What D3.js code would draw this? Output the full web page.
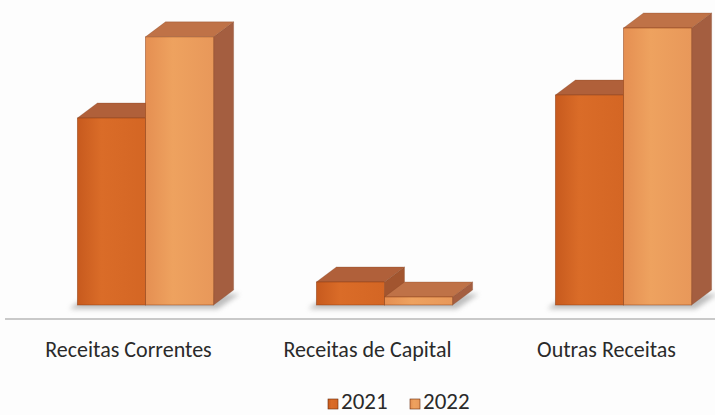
<!DOCTYPE html>
<html>
<head>
<meta charset="utf-8">
<script src="https://cdn.jsdelivr.net/npm/d3@7"></script>
<style>
  body { margin: 0; background: #fdfdfd; }
  svg { display: block; }
</style>
</head>
<body>
<div id="chart"></div>
<script>
var categories = ["Receitas Correntes", "Receitas de Capital", "Outras Receitas"];
var years = ["2021", "2022"];
var values2021 = [67.5, 8.3, 75.8];
var values2022 = [96.8, 2.9, 100];

var ctx = {
    w: 715,
    h: 415,
    base: 305,
    top: 28,
    dx: 20,
    dy: -15,
    floorY: 319
};

var svgEl = d3.select("#chart").append("svg")
    .attr("width", ctx.w)
    .attr("height", ctx.h);

svgEl.append("rect").attr("width", ctx.w).attr("height", ctx.h).attr("fill", "#fdfdfd");

var defs = svgEl.append("defs");

// front face gradients (one per year)
var frontStops = {
    "2021": [["0%", "#c75a1e"], ["35%", "#da6c28"], ["100%", "#d46624"]],
    "2022": [["0%", "#e58f52"], ["40%", "#eea25f"], ["100%", "#e8985a"]]
};
years.forEach(function(y) {
    var g = defs.append("linearGradient")
        .attr("id", "front" + y)
        .attr("x1", "0").attr("y1", "0").attr("x2", "1").attr("y2", "0");
    frontStops[y].forEach(function(s) {
        g.append("stop").attr("offset", s[0]).attr("stop-color", s[1]);
    });
});
defs.append("filter").attr("id", "blur")
    .attr("x", "-20%").attr("y", "-50%").attr("width", "140%").attr("height", "200%")
    .append("feGaussianBlur").attr("stdDeviation", 2.5);

var topColor = { "2021": "#b0603a", "2022": "#bf7247" };
var sideColor = { "2021": "#a2552f", "2022": "#a45e40" };

var x0 = d3.scaleBand()
    .domain(categories)
    .range([26, 743])
    .paddingInner(0.43)
    .paddingOuter(0.215);

var x1 = d3.scaleBand()
    .domain(years)
    .range([0, x0.bandwidth()]);

var yScale = d3.scaleLinear()
    .domain([0, 100])
    .range([ctx.base, ctx.top]);

// floor line
svgEl.append("line")
    .attr("x1", 5).attr("x2", ctx.w)
    .attr("y1", ctx.floorY).attr("y2", ctx.floorY)
    .attr("stroke", "#c9c9c9")
    .attr("stroke-width", 2);

// shadows under each group
categories.forEach(function(c) {
    var xl = x0(c), xr = x0(c) + x0.bandwidth();
    var pts = [
        [xl - 8, ctx.base + 4],
        [xr + 4, ctx.base + 4],
        [xr + ctx.dx + 6, ctx.base + ctx.dy + 4],
        [xl + ctx.dx - 8, ctx.base + ctx.dy + 4]
    ];
    svgEl.append("polygon")
        .attr("points", pts.map(p => p.join(",")).join(" "))
        .attr("fill", "#8a8a8a")
        .attr("opacity", 0.55)
        .attr("filter", "url(#blur)");
});

var rows = [];
categories.forEach(function(c, i) {
    rows.push({ cat: c, year: "2021", value: values2021[i] });
    rows.push({ cat: c, year: "2022", value: values2022[i] });
});

// one <g> per bar, drawn left to right so the 2022 box hides the 2021 side
rows.forEach(function(d) {
    var x = x0(d.cat) + x1(d.year);
    var w = x1.bandwidth();
    var yt = yScale(d.value);
    var yb = yScale(0);
    var g = svgEl.append("g").attr("class", "bar3d");

    // right side face
    g.append("polygon")
        .attr("points", [
            [x + w, yt], [x + w + ctx.dx, yt + ctx.dy],
            [x + w + ctx.dx, yb + ctx.dy], [x + w, yb]
        ].map(p => p.join(",")).join(" "))
        .attr("fill", sideColor[d.year])
        .attr("stroke", "#7d3d1c").attr("stroke-width", 0.5).attr("stroke-opacity", 0.5);

    // top face
    g.append("polygon")
        .attr("points", [
            [x, yt], [x + ctx.dx, yt + ctx.dy],
            [x + w + ctx.dx, yt + ctx.dy], [x + w, yt]
        ].map(p => p.join(",")).join(" "))
        .attr("fill", topColor[d.year])
        .attr("stroke", "#7d3d1c").attr("stroke-width", 0.5).attr("stroke-opacity", 0.5);

    // front face
    g.append("rect")
        .attr("x", x).attr("y", yt)
        .attr("width", w).attr("height", yb - yt)
        .attr("fill", "url(#front" + d.year + ")")
        .attr("stroke", "#8a3a10").attr("stroke-width", 0.8).attr("stroke-opacity", 0.6);
});

// category labels
svgEl.selectAll("text.catLabel")
    .data(categories)
    .enter()
    .append("text")
    .attr("class", "catLabel")
    .attr("x", d => x0(d) + x0.bandwidth() / 2 - 17)
    .attr("y", 357)
    .attr("text-anchor", "middle")
    .attr("font-family", "Carlito, Lato, sans-serif")
    .attr("font-size", "22px")
    .attr("fill", "#2a2a2a")
    .text(d => d);

// legend
var legendX = [328, 410];
years.forEach(function(y, i) {
    var lg = svgEl.append("g")
        .attr("transform", "translate(" + legendX[i] + ",399)");
    lg.append("rect")
        .attr("width", 10).attr("height", 10)
        .attr("fill", "url(#front" + y + ")")
        .attr("stroke", "#6a2c0c").attr("stroke-width", 0.6);
    lg.append("text")
        .attr("x", 13).attr("y", 10)
        .attr("font-family", "Carlito, Lato, sans-serif")
        .attr("font-size", "23px")
        .attr("fill", "#2a2a2a")
        .text(y);
});
</script>
</body>
</html>
